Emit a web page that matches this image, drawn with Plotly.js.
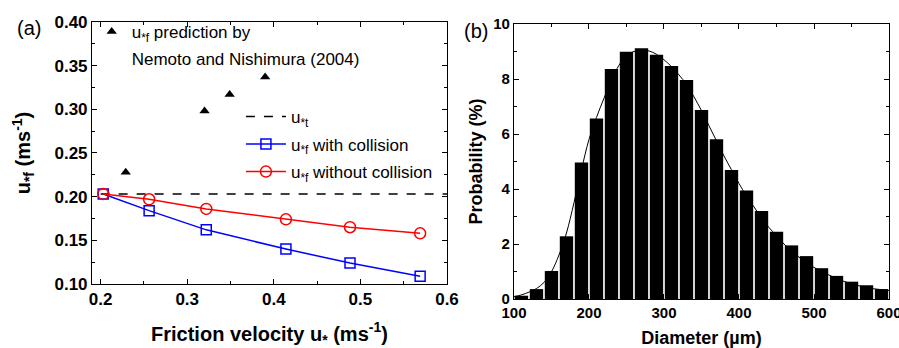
<!DOCTYPE html>
<html>
<head>
<meta charset="utf-8">
<script src="https://cdn.plot.ly/plotly-3.0.1.min.js"></script>
<style>html,body{margin:0;padding:0;background:#fff;}#chart{width:899px;height:348px;}</style>
</head>
<body>
<div id="chart"></div>
<script>
// ---- Panel (a) data ----
var frictionVel = [0.203, 0.256, 0.322, 0.414, 0.488, 0.569];
var uWithCollision = [0.203, 0.184, 0.162, 0.140, 0.124, 0.109];
var uWithoutCollision = [0.203, 0.197, 0.186, 0.174, 0.165, 0.158];
var nemotoX = [0.229, 0.320, 0.349, 0.390];
var nemotoY = [0.228, 0.298, 0.317, 0.337];
var uStarTX = [0.2, 0.6];
var uStarTY = [0.203, 0.203];

// ---- Panel (b) data ----
var binCenters = [110,130,150,170,190,210,230,250,270,290,310,330,350,370,390,410,430,450,470,490,510,530,550,570,590];
var probability = [0.12,0.36,1.02,2.28,4.96,6.56,8.36,8.99,9.12,8.88,8.47,7.96,6.87,5.81,4.69,3.95,3.20,2.45,1.95,1.56,1.12,0.84,0.63,0.50,0.36];
var fitX = [100,110,120,130,140,150,160,170,180,190,200,210,220,230,240,250,260,270,280,290,300,310,320,330,340,350,360,370,380,390,400,410,420,430,440,450,460,470,480,490,500,510,520,530,540,550,560,570,580,590,600];
var fitY = [0.08,0.15,0.25,0.38,0.6,0.99,1.6,2.4,3.5,4.7,5.8,6.6,7.3,7.95,8.5,8.85,9.0,9.05,9.02,8.9,8.7,8.45,8.15,7.8,7.35,6.85,6.3,5.75,5.2,4.7,4.2,3.75,3.35,2.95,2.6,2.3,2.0,1.75,1.52,1.32,1.15,1.0,0.87,0.75,0.64,0.55,0.48,0.42,0.37,0.34,0.31];

var FONT = 'Liberation Sans, Arial, Helvetica, sans-serif';

var traces = [
  {x: nemotoX, y: nemotoY, mode: 'markers', type: 'scatter', xaxis: 'x', yaxis: 'y',
   name: 'u<sub>*f</sub> prediction by', legend: 'legend', legendgroup: 'g1',
   marker: {symbol: 'triangle-up', size: 9, color: '#000'}},
  {x: [null], y: [null], mode: 'markers', type: 'scatter', xaxis: 'x', yaxis: 'y',
   name: 'Nemoto and Nishimura (2004)', legend: 'legend', legendgroup: 'g2',
   marker: {symbol: 'triangle-up', size: 9, color: 'rgba(0,0,0,0)'}},
  {x: uStarTX, y: uStarTY, mode: 'lines', type: 'scatter', xaxis: 'x', yaxis: 'y',
   name: 'u<sub>*t</sub>', legend: 'legend2', legendgroup: 'g3',
   line: {color: '#000', width: 1.5, dash: 'dash'}},
  {x: frictionVel, y: uWithCollision, mode: 'lines+markers', type: 'scatter', xaxis: 'x', yaxis: 'y',
   name: 'u<sub>*f</sub> with collision', legend: 'legend2', legendgroup: 'g4',
   line: {color: '#0000ff', width: 1.5},
   marker: {symbol: 'square-open', size: 10, color: '#0000ff', line: {width: 1.5}}},
  {x: frictionVel, y: uWithoutCollision, mode: 'lines+markers', type: 'scatter', xaxis: 'x', yaxis: 'y',
   name: 'u<sub>*f</sub> without collision', legend: 'legend2', legendgroup: 'g5',
   line: {color: '#ff0000', width: 1.5},
   marker: {symbol: 'circle-open', size: 11, color: '#ff0000', line: {width: 1.5}}},
  {x: binCenters, y: probability, type: 'bar', xaxis: 'x2', yaxis: 'y2', showlegend: false,
   marker: {color: '#000', line: {width: 0}}},
  {x: fitX, y: fitY, mode: 'lines', type: 'scatter', xaxis: 'x2', yaxis: 'y2', showlegend: false,
   line: {color: '#000', width: 1, shape: 'spline'}}
];

var axCommon = {
  showline: true, linecolor: '#000', linewidth: 1, mirror: 'ticks',
  ticks: 'inside', ticklen: 5, tickwidth: 1, tickcolor: '#000',
  showgrid: false, zeroline: false, fixedrange: true, ticklabeloverflow: 'allow'
};

function ax(extra) { return Object.assign({}, axCommon, extra); }

var layout = {
  width: 899, height: 348,
  margin: {l: 0, r: 0, t: 0, b: 0},
  paper_bgcolor: '#fff', plot_bgcolor: 'rgba(0,0,0,0)',
  font: {family: FONT, color: '#000'},
  bargap: 0.11,
  xaxis: ax({domain: [0.1023, 0.4972], anchor: 'y', range: [0.19, 0.6], dtick: 0.1, tick0: 0,
    tickformat: '.1f', tickfont: {size: 17, weight: 'bold'},
    minor: {dtick: 0.05, ticks: 'inside', ticklen: 3, tickcolor: '#000'},
    title: {text: 'Friction velocity u<sub>*</sub> (ms<sup>-1</sup>)', font: {size: 20, weight: 'bold'}, standoff: 19}}),
  yaxis: ax({domain: [0.1839, 0.9368], anchor: 'x', range: [0.1, 0.4], dtick: 0.05, tick0: 0,
    tickformat: '.2f', tickfont: {size: 17, weight: 'bold'},
    minor: {dtick: 0.025, ticks: 'inside', ticklen: 3, tickcolor: '#000'},
    title: {text: 'u<sub>*f</sub> (ms<sup>-1</sup>)', font: {size: 20, weight: 'bold'}, standoff: 18}}),
  xaxis2: ax({domain: [0.5717, 0.9889], anchor: 'y2', range: [100, 600], dtick: 100, tick0: 0,
    tickfont: {size: 15, weight: 'bold'},
    minor: {dtick: 50, ticks: 'inside', ticklen: 3, tickcolor: '#000'},
    title: {text: 'Diameter (µm)', font: {size: 18, weight: 'bold'}, standoff: 16}}),
  yaxis2: ax({domain: [0.1408, 0.931], anchor: 'x2', range: [0, 10], dtick: 2, tick0: 0,
    tickfont: {size: 15, weight: 'bold'},
    minor: {dtick: 1, ticks: 'inside', ticklen: 3, tickcolor: '#000'},
    title: {text: 'Probability (%)', font: {size: 18, weight: 'bold'}, standoff: 5}}),
  legend: {x: 0.102, y: 0.96, xanchor: 'left', yanchor: 'top', bgcolor: 'rgba(0,0,0,0)',
    font: {size: 17, family: FONT}, tracegroupgap: 2, itemclick: false, itemdoubleclick: false},
  legend2: {x: 0.268, y: 0.716, xanchor: 'left', yanchor: 'top', bgcolor: 'rgba(0,0,0,0)',
    font: {size: 17, family: FONT}, tracegroupgap: 2.5, itemwidth: 40, itemclick: false, itemdoubleclick: false},
  annotations: [
    {text: '(a)', xref: 'paper', yref: 'paper', x: 0.0167, y: 0.92, xanchor: 'left', yanchor: 'middle',
     showarrow: false, font: {size: 20, family: FONT}},
    {text: '(b)', xref: 'paper', yref: 'paper', x: 0.5139, y: 0.911, xanchor: 'left', yanchor: 'middle',
     showarrow: false, font: {size: 20, family: FONT}}
  ]
};

Plotly.newPlot('chart', traces, layout, {displayModeBar: false, staticPlot: true});
</script>
</body>
</html>
